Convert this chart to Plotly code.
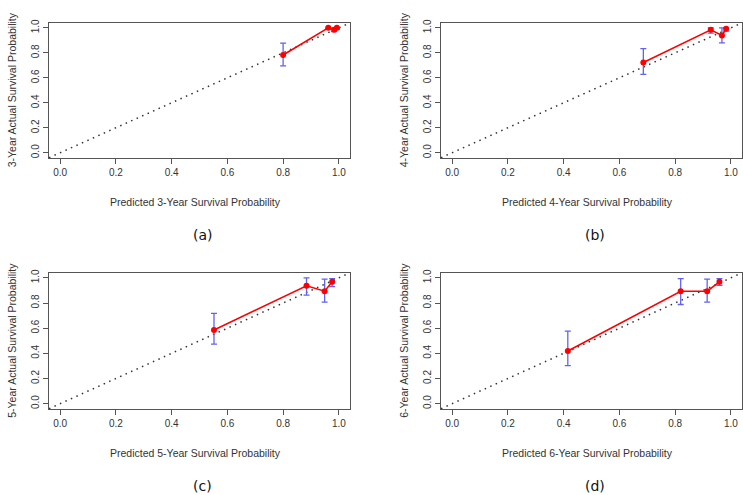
import plotly.graph_objects as go

# ---- data (predicted, observed, CI lower, CI upper) ----
years = ["3", "4", "5", "6"]
captions = ["(a)", "(b)", "(c)", "(d)"]

pred_3 = [0.800, 0.962, 0.983, 0.993]
obs_3 = [0.783, 1.000, 0.985, 1.000]
lo_3 = [0.696, 0.990, 0.970, 0.988]
hi_3 = [0.878, 1.000, 1.000, 1.000]

pred_4 = [0.686, 0.928, 0.968, 0.983]
obs_4 = [0.722, 0.984, 0.939, 0.992]
lo_4 = [0.627, 0.958, 0.880, 0.974]
hi_4 = [0.833, 1.000, 1.000, 1.000]

pred_5 = [0.552, 0.884, 0.949, 0.976]
obs_5 = [0.585, 0.937, 0.894, 0.968]
lo_5 = [0.474, 0.863, 0.807, 0.931]
hi_5 = [0.717, 1.000, 0.990, 0.994]

pred_6 = [0.415, 0.820, 0.915, 0.959]
obs_6 = [0.418, 0.894, 0.894, 0.968]
lo_6 = [0.302, 0.788, 0.807, 0.941]
hi_6 = [0.577, 0.994, 0.990, 0.994]

ticks = [0.0, 0.2, 0.4, 0.6, 0.8, 1.0]
tick_labels = ["0.0", "0.2", "0.4", "0.6", "0.8", "1.0"]

series = [
    (pred_3, obs_3, lo_3, hi_3),
    (pred_4, obs_4, lo_4, hi_4),
    (pred_5, obs_5, lo_5, hi_5),
    (pred_6, obs_6, lo_6, hi_6),
]

W, H = 743, 495
# plot boxes in pixels (left, right, top, bottom)
boxes = [(49, 350, 19, 155), (441, 742, 19, 155), (49, 350, 271, 408), (441, 742, 271, 408)]

FONT = "Liberation Sans, Arial, Helvetica, sans-serif"
TXT = "#222222"
RED = "#ff0000"
BLUE = "#6262f2"

fig = go.Figure()
annotations = []
shapes = []

for i, ((px, ob, lo, hi), (l, r, t, b)) in enumerate(zip(series, boxes)):
    n = i + 1
    xa = "x" if n == 1 else f"x{n}"
    ya = "y" if n == 1 else f"y{n}"
    xkey = "xaxis" if n == 1 else f"xaxis{n}"
    ykey = "yaxis" if n == 1 else f"yaxis{n}"

    fig.add_trace(go.Scatter(
        x=px, y=ob, mode="lines+markers", xaxis=xa, yaxis=ya,
        line=dict(color=RED, width=1.6),
        marker=dict(color=RED, size=6, symbol="circle"),
        error_y=dict(type="data", symmetric=False,
                     array=[h - o for h, o in zip(hi, ob)],
                     arrayminus=[o - lw for o, lw in zip(ob, lo)],
                     color=BLUE, thickness=1.3, width=3),
        showlegend=False, hoverinfo="skip",
    ))

    ax_common = dict(
        range=[-0.04, 1.04], tickmode="array", tickvals=ticks, ticktext=tick_labels,
        showgrid=False, zeroline=False, showline=True, mirror=True,
        linecolor="#555555", linewidth=1, ticks="outside", ticklen=5,
        tickcolor="#555555", tickwidth=1,
        tickfont=dict(family=FONT, size=10, color="#333333"),
    )
    fig.update_layout({
        xkey: dict(ax_common, domain=[l / W, r / W], anchor=ya),
        ykey: dict(ax_common, domain=[(H - b) / H, (H - t) / H], anchor=xa, tickangle=-90),
    })

    shapes.append(dict(type="line", xref=f"{xa} domain", yref=f"{ya} domain",
                       x0=0, y0=0, x1=1, y1=1, layer="below",
                       line=dict(color="#333333", width=1.5, dash="1.5px,4.5px")))

    cx = (l + r) / 2
    yr = years[i]
    annotations.append(dict(text=f"Predicted {yr}-Year Survival Probability",
                            x=(cx - 4) / W, y=(H - (b + 45)) / H, xref="paper", yref="paper",
                            showarrow=False, xanchor="center", yanchor="middle",
                            font=dict(family=FONT, size=10.5, color="#333333")))
    annotations.append(dict(text=f"{yr}-Year Actual Survival Probability",
                            x=(l - 37) / W, y=(H - (t + b) / 2) / H, xref="paper", yref="paper",
                            showarrow=False, xanchor="center", yanchor="middle", textangle=-90,
                            font=dict(family=FONT, size=10.5, color="#333333")))
    annotations.append(dict(text=captions[i],
                            x=(cx + 3) / W, y=(H - (b + 78)) / H, xref="paper", yref="paper",
                            showarrow=False, xanchor="center", yanchor="middle",
                            font=dict(family="DejaVu Sans, sans-serif", size=14, color="#111111")))

fig.update_layout(
    width=W, height=H, margin=dict(l=0, r=0, t=0, b=0),
    paper_bgcolor="white", plot_bgcolor="white",
    annotations=annotations, shapes=shapes,
)

fig.write_html("out.html")
